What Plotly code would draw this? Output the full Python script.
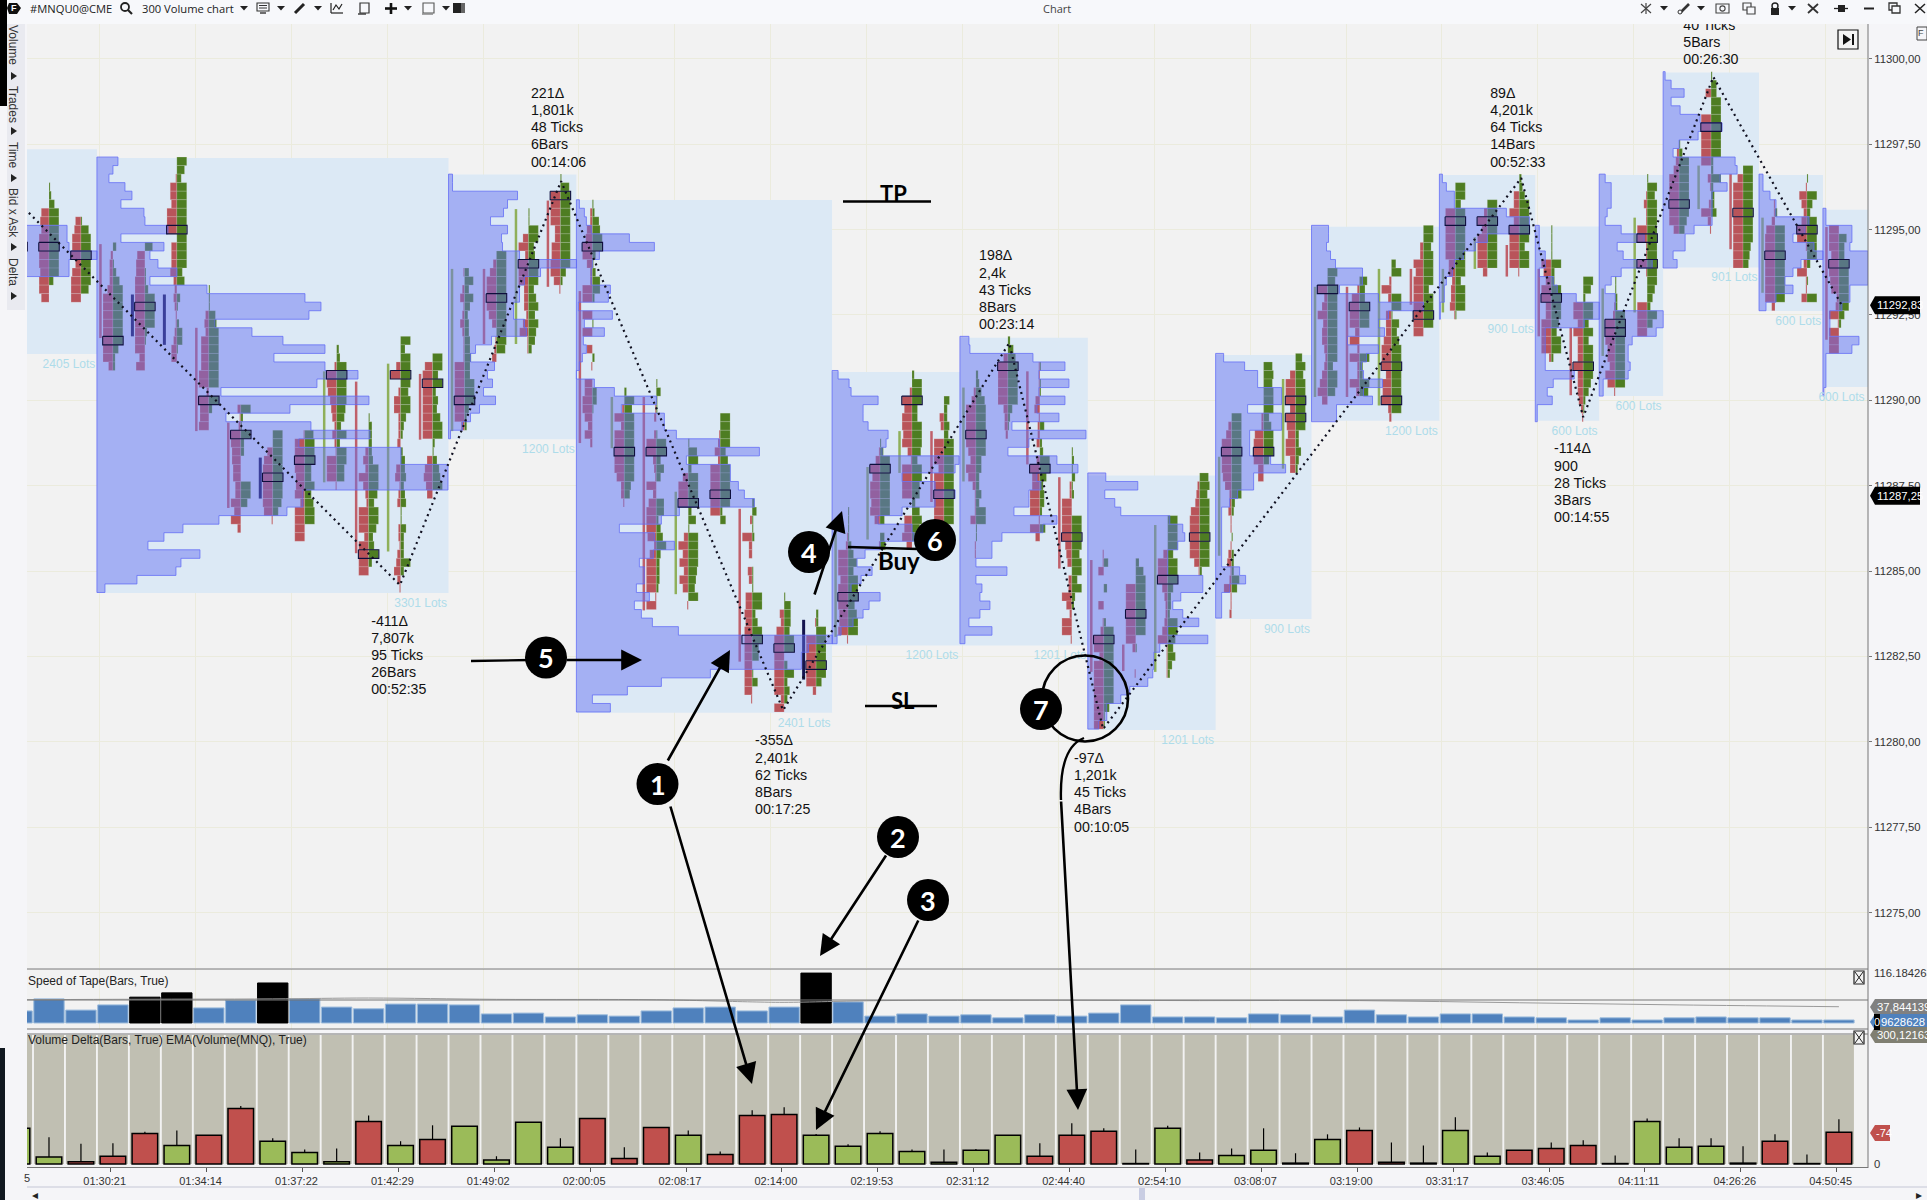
import plotly.graph_objects as go

W, H = 1927, 1200
BASE_PRICE = 11300.0
TICK = 0.25
LOT_PX = 1 / 31.96      # one profile lot / one volume unit, in bar widths
CELL = 1.1 / 31.96      # one footprint digit, in bar widths
CAPTION_STEP = 0.5      # line step of the captions, in price points

# ---------- footprint clusters, bar -1 .. 56 ----------
CLUSTER_TOP = [14, 15, 19, 22, 22, 12, 27, 41, 44, 44, 34, 42, 33, 35, 25, 23, 18, 14, 17, 39,
               38, 45, 42, 52, 63, 65, 53, 45, 37, 40, 37, 33, 36, 46, 58, 59, 54, 49, 42, 36,
               35, 25, 26, 24, 20, 15, 17, 14, 20, 26, 26, 14, 10, 2, 13, 17, 14, 20]
SELL = ["00000000000", "00078799998997", "5688958999", "023335999999994", "078899999999958",
        "001665999055563232112355", "00034377779929889", "312998877559693", "00589999981",
        "1999988949999", "00299865424219991", "0000353953299949999",
        "000490266222300451230022134631", "07999999990057865", "1024124211199999993",
        "0369999740124", "00059399944425811", "00999955889961",
        "02256995229909090501077997472", "00293999997331", "000120299321937999826999919",
        "00005999000495848501", "0012529999990", "002093304306676777777771", "00437999999939",
        "0109999993", "0001299979998891", "0149799895001", "002979989419999007795",
        "004309995999999", "0024999997597311150011", "004999994332", "111145122303977999194",
        "00002299999654033952991", "115000501399499999999", "00099999993001",
        "0000499953223591111", "023489999951", "035999986223110134127112", "00000022899955",
        "00599959879955", "0093594553235795", "02799949292293", "0029305557999588932",
        "0033979999999", "0009999996634451", "039599994", "005595999991", "0000975995599992",
        "00099595559555421", "00012999775971", "0013119911910009999", "02359999995",
        "0050099999903102931", "059999999999", "1138999999993", "017535991039115",
        "999799872391999"]
BUY = ["99099999999", "12599999999400", "1799999970", "301369999999522", "700113999921000",
       "974999999999957031025510", "11167999999909300", "921933000996000", "99999999850",
       "8999669689900", "23999998749399770", "1333349998599745930",
       "949999799532024453451153339300", "99593547992146790", "4848534455655999422",
       "9999999999980", "11995699957969763", "18999999999520",
       "12679931377200100020004410000", "29799999999650", "141100199474007724694333200",
       "18939999371999987690", "9999579999925", "241120001119935996601500", "16665990393530",
       "2299999950", "1111358599968990", "1399999994045", "299955999859977379790",
       "533549999999999", "2358999999553353991100", "257999994210", "101100040239963442050",
       "12131200999979959320000", "040030002999999999511", "37999999901000",
       "9999599953329975742", "897999999992", "999999999932001022275000", "89899957999500",
       "69799999933532", "9799999999959970", "75599900093398", "4900991757999999990",
       "9979999599990", "9959999999959991", "999999990", "235999995990", "1111933999975992",
       "97299595999975210", "11229999999990", "1979999999999753950", "13999999975",
       "1559999999229233500", "999999999765", "0209999999990", "109539999930109",
       "075599999952000"]

POC_BAR = [-1, 0, 1, 2, 3, 4, 5, 6, 7, 8, 9, 10, 11, 12, 13, 14, 15, 16, 17, 18, 19, 20, 21, 22, 23,
           24, 25, 26, 27, 28, 29, 30, 31, 32, 33, 34, 35, 36, 37, 38, 39, 39, 40, 41, 42, 42, 43,
           44, 45, 46, 47, 48, 49, 49, 50, 50, 51, 52, 53, 54, 55, 56]
POC_TICK = [22, 22, 23, 33, 29, 20, 40, 44, 49, 47, 37, 58, 37, 38, 40, 28, 24, 16, 22, 46, 46, 52,
            51, 68, 69, 71, 63, 48, 40, 51, 44, 36, 48, 56, 68, 65, 61, 56, 46, 46, 40, 42, 27, 29,
            36, 40, 30, 19, 19, 20, 28, 36, 31, 32, 21, 24, 17, 8, 18, 23, 20, 24]

CANDLE_BAR = [2, 3, 4, 5, 6, 7, 9, 10, 11, 12, 13, 14, 15, 16, 17, 18, 19, 20, 22, 24, 25, 26, 27,
              28, 29, 31, 32, 33, 34, 35, 37, 39, 40, 41, 42, 43, 44, 45, 46, 47, 48, 49, 50, 52,
              53, 54, 56]
CANDLE_TOP = [21.7, 27.6, 27.6, 31.5, 42.6, 46.7, 36.6, 37.8, 35.7, 36.9, 24.6, 24.6, 17.6, 16.6,
              27.2, 39.6, 39.6, 50.7, 52.7, 65.7, 55.0, 47.8, 43.6, 43.6, 38.5, 36.6, 49.0, 58.7,
              68.6, 54.6, 46.6, 37.5, 26.7, 26.7, 24.6, 24.6, 24.6, 20.9, 21.8, 24.6, 31.5, 26.9,
              18.6, 12.5, 13.5, 18.6, 19.7]
CANDLE_BOT = [32.7, 32.5, 33.5, 43.6, 52.6, 51.5, 49.6, 57.9, 57.7, 44.6, 43.6, 33.4, 33.4, 26.7,
              45.0, 45.6, 64.6, 62.7, 70.6, 72.7, 67.7, 56.3, 48.5, 51.9, 49.5, 47.5, 59.7, 71.8,
              71.7, 71.8, 58.2, 48.0, 39.6, 39.6, 40.6, 28.8, 29.7, 24.6, 25.5, 32.5, 39.4, 34.8,
              29.7, 17.6, 22.3, 27.4, 32.9]
CANDLE_KIND = list("snnssnbsbsbsbssbsbsnbbbsbssssbbbbsbsbbsssbbbsbs")

# ---------- volume profile zones ----------
ZONE_LEFT = [-1.5, 1.5, 12.5, 16.5, 24.5, 28.5, 32.5, 36.5, 39.5, 43.5, 46.5, 48.5, 50.5, 53.5, 55.5]
ZONE_RIGHT = [1.5, 12.5, 16.5, 24.5, 28.5, 32.5, 36.5, 39.5, 43.5, 46.5, 48.5, 50.5, 53.5, 55.5, 56.91]
ZONE_HIGH = [11297.35, 11297.10, 11296.61, 11295.87, 11290.83, 11291.83, 11287.80, 11291.33,
             11295.08, 11296.60, 11295.09, 11296.60, 11299.60, 11296.60, 11295.58]
ZONE_LOW = [11291.36, 11284.36, 11288.86, 11280.85, 11282.82, 11282.82, 11280.35, 11283.60,
            11289.40, 11292.38, 11289.40, 11290.13, 11293.89, 11292.62, 11290.39]
ZONE_LOTS = ["2405 Lots", "3301 Lots", "1200 Lots", "2401 Lots", "1200 Lots", "1201 Lots", "1201 Lots",
             "900 Lots", "1200 Lots", "900 Lots", "600 Lots", "600 Lots", "901 Lots", "600 Lots", "600 Lots"]
PROFILE_TOP = [18, 12, 14, 17, 37, 33, 49, 35, 20, 14, 20, 14, 2, 14, 18]
PROFILE_VOL = [
    [18, 18, 66, 66, 68, 96, 68, 68],
    [21, 16, 12, 28, 35, 24, 47, 48, 71, 24, 67, 53, 61, 80, 53, 110, 208, 224, 212, 118, 155, 186, 228, 177,
     228, 261, 220, 124, 272, 193, 129, 214, 273, 202, 304, 304, 351, 351, 351, 206, 206, 190, 122, 86, 67,
     51, 103, 84, 79, 40, 8],
    [4, 4, 69, 59, 55, 42, 59, 53, 54, 71, 128, 92, 76, 71, 71, 65, 65, 76, 78, 43, 27, 22, 46, 39, 44, 35,
     47, 31, 22, 14, 2],
    [3, 8, 10, 15, 53, 78, 23, 16, 15, 15, 34, 32, 2, 36, 8, 28, 7, 10, 6, 3, 0, 18, 38, 80, 45, 88, 88, 100,
     143, 183, 110, 154, 154, 162, 168, 178, 103, 85, 43, 78, 98, 77, 63, 68, 68, 60, 73, 58, 65, 76, 102,
     256, 232, 225, 225, 134, 85, 51, 16, 34],
    [6, 17, 19, 46, 31, 31, 36, 56, 54, 50, 127, 123, 70, 103, 123, 103, 70, 46, 80, 82, 48, 33, 25, 40, 29,
     19, 48, 37, 31, 21, 9, 5],
    [9, 10, 73, 105, 79, 109, 79, 105, 77, 99, 52, 126, 69, 48, 97, 118, 77, 81, 69, 69, 54, 97, 83, 42, 32,
     32, 16, 47, 16, 22, 20, 30, 20, 9, 32, 5],
    [18, 50, 17, 27, 33, 82, 95, 97, 90, 80, 80, 80, 115, 115, 93, 85, 95, 111, 80, 120, 72, 66, 66, 65, 60,
     42, 33, 19, 19, 11],
    [8, 29, 42, 42, 66, 66, 32, 66, 66, 34, 34, 34, 55, 70, 38, 38, 22, 14, 6, 6, 6, 6, 6, 6, 6, 24, 30, 14,
     6, 6, 6],
    [17, 17, 15, 19, 24, 51, 51, 28, 67, 112, 77, 67, 73, 36, 67, 55, 50, 52, 71, 52, 61, 25, 25],
    [3, 7, 15, 15, 67, 90, 90, 48, 36, 24, 15, 13, 7, 5, 5, 1, 1],
    [4, 4, 4, 10, 10, 4, 18, 22, 41, 64, 64, 49, 10, 10, 10, 10, 10, 39, 18, 12, 17, 2, 2],
    [6, 12, 12, 12, 8, 6, 22, 45, 18, 24, 53, 22, 12, 6, 16, 16, 64, 64, 57, 33, 29, 29, 31, 29, 4, 4],
    [2, 8, 21, 8, 17, 37, 59, 35, 16, 10, 72, 74, 57, 64, 49, 49, 49, 49, 31, 22, 22, 10, 14],
    [4, 4, 11, 17, 17, 50, 46, 34, 55, 64, 42, 34, 26, 34, 17, 7],
    [3, 3, 29, 29, 27, 45, 45, 45, 45, 27, 27, 19, 7, 7, 7, 36, 29, 3, 3, 3, 3, 1],
]

# ---------- swing line and its captions ----------
SWING_BAR = [-0.63, 10.98, 16.02, 22.97, 30.04, 32.98, 46.06, 48.0, 52.07, 56.07]
SWING_PRICE = [11295.49, 11284.59, 11296.42, 11280.93, 11291.68, 11280.38, 11296.51, 11289.51, 11299.47, 11292.82]
CAPTION_BAR = [15.08, 10.08, 22.09, 29.10, 32.07, 45.09, 47.09, 51.13]
CAPTION_PRICE = [11298.95, 11283.51, 11280.00, 11294.20, 11279.48, 11298.95, 11288.55, 11300.96]
CAPTION_TEXT = [["221Δ", "1,801k", "48 Ticks", "6Bars", "00:14:06"],
                ["-411Δ", "7,807k", "95 Ticks", "26Bars", "00:52:35"],
                ["-355Δ", "2,401k", "62 Ticks", "8Bars", "00:17:25"],
                ["198Δ", "2,4k", "43 Ticks", "8Bars", "00:23:14"],
                ["-97Δ", "1,201k", "45 Ticks", "4Bars", "00:10:05"],
                ["89Δ", "4,201k", "64 Ticks", "14Bars", "00:52:33"],
                ["-114Δ", "900", "28 Ticks", "3Bars", "00:14:55"],
                ["40 Ticks", "5Bars", "00:26:30"]]

# ---------- lower panels, bar -1 .. 56 ----------
BARS = list(range(-1, 57))
SPEED = [28, 56, 30, 42, 60, 70, 35, 53, 93, 56, 37, 33, 44, 44, 42, 21, 23, 14, 19, 16, 28, 35, 37, 28, 37,
         116, 49, 16, 21, 16, 19, 12, 19, 16, 23, 42, 14, 14, 12, 21, 19, 14, 30, 19, 14, 21, 21, 14, 12, 7,
         12, 7, 12, 14, 12, 12, 7, 7]
BLACK_SPEED_BARS = [3, 4, 7, 24]
EMA_BAR = [-1, 2, 7, 10, 14, 19, 22, 23, 26, 31, 36, 41, 46, 51, 56]
EMA_VAL = [54, 55, 56, 58, 55, 54, 49, 48, 52, 53, 52, 52, 47, 42, 37.8]
DELTA = [83, 16, 5, 18, 71, 43, 67, 129, 53, 27, 5, 99, 43, 57, 88, 9, 97, 39, 106, 13, 85, 67, 22, 113, 115,
         67, 41, 71, 29, 4, 32, 67, 18, 67, 76, 1, 83, 9, 20, 32, 2, 57, 78, 4, 2, 78, 18, 32, 36, 43, 1, 99,
         39, 41, 2, 53, 1, 74]
DELTA_HIGH = [83, 62, 47, 48, 75, 78, 67, 135, 60, 34, 36, 113, 53, 90, 88, 18, 97, 60, 106, 39, 85, 78, 29,
              125, 132, 70, 46, 76, 34, 34, 35, 67, 48, 95, 83, 34, 89, 27, 36, 83, 25, 69, 85, 50, 43, 109,
              27, 32, 50, 55, 20, 106, 60, 60, 41, 69, 22, 104]
DELTA_SIDE = list("bbsssbssbbbsbsbbbbsssbs" "ssbbbbbbbssssbsbbsbsss" "bbssssbbbssss")

TIME_BAR = [1.93 + 3 * k for k in range(19)]
TIME_TEXT = ["01:30:21", "01:34:14", "01:37:22", "01:42:29", "01:49:02", "02:00:05", "02:08:17", "02:14:00",
             "02:19:53", "02:31:12", "02:44:40", "02:54:10", "03:08:07", "03:19:00", "03:31:17", "03:46:05",
             "04:11:11", "04:26:26", "04:50:45"]
GRID_BAR = [1.58 + 3 * k for k in range(19)]
PRICE_TICKS = [11275, 11277.5, 11280, 11282.5, 11285, 11287.5, 11290, 11292.5, 11295, 11297.5, 11300]
LAST_PRICE = 11292.83
MARK_PRICE = 11287.25

RED, GREEN = "#c0504d", "#9bbb59"
SELL_CLR, BUY_CLR = "#b9545a", "#4e7d22"


def price(t):
    return BASE_PRICE - TICK * t


fx = lambda x: x / W
fy = lambda y: 1 - y / H

fig = go.Figure()

# zone backgrounds
fig.add_trace(go.Bar(orientation="h", y=[(a + b) / 2 for a, b in zip(ZONE_HIGH, ZONE_LOW)],
                     x=[r - l for l, r in zip(ZONE_LEFT, ZONE_RIGHT)], base=ZONE_LEFT,
                     width=[a - b for a, b in zip(ZONE_HIGH, ZONE_LOW)],
                     marker=dict(color="#dce9f5", line=dict(width=0)), hoverinfo="skip", showlegend=False))

# footprint cells
sy, sx, sb, by, bx, bb = [], [], [], [], [], []
for bar, top, sell, buy in zip(BARS, CLUSTER_TOP, SELL, BUY):
    for k, d in enumerate(sell):
        if d != "0":
            sy.append(price(top + k)); sx.append(-int(d) * CELL); sb.append(bar)
    for k, d in enumerate(buy):
        if d != "0":
            by.append(price(top + k)); bx.append(int(d) * CELL); bb.append(bar)
for ys, xs, bs, clr in ((sy, sx, sb, SELL_CLR), (by, bx, bb, BUY_CLR)):
    fig.add_trace(go.Bar(orientation="h", y=ys, x=xs, base=bs, width=TICK,
                         marker=dict(color=clr, line=dict(color="rgba(240,240,240,0.35)", width=0.5)),
                         hoverinfo="skip", showlegend=False))

# thin candles to the left of each cluster
for kind, clr, wd in (("s", "#c0606a", 2.5), ("b", "#8fb05a", 2.5), ("n", "#14144e", 3)):
    xs, ys = [], []
    for b, t0, t1, k in zip(CANDLE_BAR, CANDLE_TOP, CANDLE_BOT, CANDLE_KIND):
        if k == kind:
            xs += [b - 0.39, b - 0.39, None]
            ys += [price(t0), price(t1), None]
    fig.add_trace(go.Scatter(x=xs, y=ys, mode="lines", line=dict(color=clr, width=wd),
                             hoverinfo="skip", showlegend=False))

# volume profiles
for left, top, vols in zip(ZONE_LEFT, PROFILE_TOP, PROFILE_VOL):
    xs, ys = [left], [price(top) + TICK / 2]
    for k, v in enumerate(vols):
        xs += [left + v * LOT_PX] * 2
        ys += [price(top + k) + TICK / 2, price(top + k) - TICK / 2]
    xs.append(left); ys.append(ys[-1]); xs.append(left); ys.append(price(top) + TICK / 2)
    fig.add_trace(go.Scatter(x=xs, y=ys, mode="lines", fill="toself", fillcolor="rgba(102,112,240,0.47)",
                             line=dict(color="rgba(95,105,245,0.75)", width=1), hoverinfo="skip", showlegend=False))

# POC boxes
xs, ys = [], []
for b, t in zip(POC_BAR, POC_TICK):
    l, r, hi, lo = b - 0.32, b + 0.32, price(t) + TICK / 2, price(t) - TICK / 2
    xs += [l, r, r, l, l, None]
    ys += [hi, hi, lo, lo, hi, None]
fig.add_trace(go.Scatter(x=xs, y=ys, mode="lines", line=dict(color="#0e0e3c", width=1.1),
                         hoverinfo="skip", showlegend=False))

# swing line
fig.add_trace(go.Scatter(x=SWING_BAR, y=SWING_PRICE, mode="lines",
                         line=dict(color="#101020", width=2.2, dash="2px,4px"), hoverinfo="skip", showlegend=False))

# captions and lot labels
cap_x, cap_y, cap_t = [], [], []
for bx0, p0, lines in zip(CAPTION_BAR, CAPTION_PRICE, CAPTION_TEXT):
    for k, s in enumerate(lines):
        cap_x.append(bx0); cap_y.append(p0 - k * CAPTION_STEP); cap_t.append(s)
fig.add_trace(go.Scatter(x=cap_x, y=cap_y, mode="text", text=cap_t, textposition="middle right",
                         textfont=dict(family="Liberation Sans", size=14.2, color="#111"),
                         hoverinfo="skip", showlegend=False))
fig.add_trace(go.Scatter(x=[min(r, 56.85) - 0.05 for r in ZONE_RIGHT], y=[p - 0.14 for p in ZONE_LOW], mode="text",
                         text=ZONE_LOTS, textposition="bottom left",
                         textfont=dict(family="Liberation Sans", size=12, color="#aedcea"),
                         hoverinfo="skip", showlegend=False))

# speed of tape
speed_clr = ["#000000" if b in BLACK_SPEED_BARS else "#4f81bd" for b in BARS]
speed_line = ["#000000" if b in BLACK_SPEED_BARS else "#9bbbdc" for b in BARS]
fig.add_trace(go.Bar(x=BARS, y=SPEED, width=0.95, marker=dict(color=speed_clr, line=dict(color=speed_line, width=1)),
                     xaxis="x2", yaxis="y2", hoverinfo="skip", showlegend=False))
fig.add_trace(go.Scatter(x=EMA_BAR, y=EMA_VAL, mode="lines", line=dict(color="#9a9a9a", width=1, shape="spline"),
                         xaxis="x2", yaxis="y2", hoverinfo="skip", showlegend=False))

# volume delta
fig.add_trace(go.Bar(x=BARS, y=[300] * len(BARS), width=0.94, marker=dict(color="#c0bfb2", line=dict(width=0)),
                     xaxis="x3", yaxis="y3", hoverinfo="skip", showlegend=False))
fig.add_trace(go.Bar(x=BARS, y=DELTA, width=0.8,
                     marker=dict(color=[RED if s == "s" else GREEN for s in DELTA_SIDE], line=dict(color="#000", width=1.5)),
                     xaxis="x3", yaxis="y3", hoverinfo="skip", showlegend=False))
wx, wy = [], []
for b, lo, hi in zip(BARS, DELTA, DELTA_HIGH):
    wx += [b, b, None]
    wy += [lo, hi, None]
fig.add_trace(go.Scatter(x=wx, y=wy, mode="lines", line=dict(color="#000", width=1.2),
                         xaxis="x3", yaxis="y3", hoverinfo="skip", showlegend=False))

# ---------- chrome helpers ----------
shapes, ann = [], []


def rect(x0, y0, x1, y1, fill=None, line=None, lw=1, layer="above"):
    shapes.append(dict(type="rect", xref="paper", yref="paper", x0=fx(x0), x1=fx(x1), y0=fy(y0), y1=fy(y1),
                       fillcolor=fill or "rgba(0,0,0,0)", line=dict(color=line or "rgba(0,0,0,0)", width=lw if line else 0),
                       layer=layer))


def seg(x0, y0, x1, y1, color="#000", lw=1):
    shapes.append(dict(type="line", xref="paper", yref="paper", x0=fx(x0), x1=fx(x1), y0=fy(y0), y1=fy(y1),
                       line=dict(color=color, width=lw), layer="above"))


def circ(cx, cy, r, fill=None, line=None, lw=1):
    shapes.append(dict(type="circle", xref="paper", yref="paper", x0=fx(cx - r), x1=fx(cx + r), y0=fy(cy - r), y1=fy(cy + r),
                       fillcolor=fill or "rgba(0,0,0,0)", line=dict(color=line or "rgba(0,0,0,0)", width=lw if line else 0),
                       layer="above"))


def path(points, fill=None, line=None, lw=1):
    d = "M " + " L ".join(f"{fx(x):.5f},{fy(y):.5f}" for x, y in points)
    if fill:
        d += " Z"
    shapes.append(dict(type="path", xref="paper", yref="paper", path=d, fillcolor=fill or "rgba(0,0,0,0)",
                       line=dict(color=line or "rgba(0,0,0,0)", width=lw if line else 0), layer="above"))


def txt(x, y, s, size=12, color="#222", anchor="left", family="Liberation Sans", angle=0, bg=None, bold=False):
    ann.append(dict(xref="paper", yref="paper", x=fx(x), y=fy(y), text=f"<b>{s}</b>" if bold else s, showarrow=False,
                    xanchor=anchor, yanchor="middle", textangle=angle, bgcolor=bg, borderpad=0,
                    font=dict(family=family, size=size, color=color)))


def arrow(x0, y0, x1, y1, lw=2.6):
    ann.append(dict(xref="paper", yref="paper", axref="pixel", ayref="pixel", x=fx(x1), y=fy(y1), ax=x0 - x1, ay=y0 - y1,
                    text="", showarrow=True, arrowhead=2, arrowsize=1.6, arrowwidth=lw, arrowcolor="#000", standoff=0))


def drop(x):
    path([(x - 4, 6), (x + 4, 6), (x, 10.5)], fill="#222")


# window chrome
rect(0, 0, W, 24, fill="#f7f8fb")
rect(0, 24, 27, H, fill="#f5f5f8")
rect(0, 0, 7, 106, fill="#000")
rect(0, 1048, 5, H, fill="#101820")
rect(7, 24, 25, 310, fill="#e9eaf0")
seg(27, 1187, W, 1187, "#d4d6e2", 1.5)
rect(1139, 1188, 1145, H, fill="#c9cde3")
txt(35, 1195, "◂", 12, "#222", "center", "DejaVu Sans")
txt(1919, 1195, "▸", 12, "#222", "center", "DejaVu Sans")

# toolbar, left part
path([(9, 3), (17, 3), (21, 8), (17, 14), (9, 14), (7, 8)], fill="#111")
txt(14, 8, "F", 9, "#fff", "center", "Liberation Sans", bold=True)
txt(29, 8, "#MNQU0@CME", 11.2, "#222", family="Open Sans")
circ(125, 7, 4, line="#222", lw=1.8)
seg(128, 10, 132, 14, "#222", 2.2)
txt(141, 8, "300 Volume chart", 11.2, "#222", family="Open Sans")
for x in (244, 281, 318, 408, 446, 1664, 1701, 1792):
    drop(x)
rect(257, 3, 269, 11, line="#333", lw=1.1)
seg(259, 5.5, 267, 5.5, "#333", 1); seg(259, 8, 267, 8, "#333", 1); seg(260, 13, 266, 13, "#333", 1.4)
seg(295, 13, 304, 4, "#222", 3)
seg(331, 13, 343, 13, "#222", 1.2); seg(331, 3, 331, 13, "#222", 1.2)
path([(333, 10), (336, 5), (339, 9), (342, 4)], line="#222", lw=1.2)
rect(360, 3, 369, 13, line="#333", lw=1.2)
seg(358, 14, 366, 14, "#333", 1.4)
seg(385, 8.5, 397, 8.5, "#111", 2.6); seg(391, 3, 391, 14, "#111", 2.6)
rect(423, 3, 434, 13, line="#555", lw=1.1); seg(422, 14, 433, 14, "#888", 1.5)
rect(453, 3, 461, 13, fill="#222"); rect(461, 3, 465, 13, fill="#666")
txt(1057, 8, "Chart", 11, "#444", "center", "Open Sans")

# toolbar, right part
seg(1641, 4, 1651, 13, "#444", 1.2); seg(1641, 13, 1651, 4, "#444", 1.2); seg(1646, 3, 1646, 14, "#444", 1.2)
seg(1680, 13, 1689, 4, "#333", 2.6); circ(1680, 12, 2, fill="#f7f8fb", line="#333", lw=1)
rect(1716, 4, 1729, 13, line="#444", lw=1.1); circ(1722.5, 8.5, 2.6, line="#444", lw=1.1)
rect(1743, 3, 1751, 10, line="#444", lw=1.2); rect(1747, 7, 1755, 14, fill="#f7f8fb", line="#444", lw=1.2)
rect(1771, 8, 1779, 15, fill="#222"); circ(1775, 6, 3, line="#222", lw=1.4)
seg(1808, 13, 1818, 4, "#333", 1.8); seg(1808, 4, 1818, 13, "#333", 1.8)
seg(1834, 8.5, 1848, 8.5, "#222", 1.3); rect(1838, 5, 1845, 12, fill="#222")
seg(1864, 8.5, 1874, 8.5, "#222", 2)
rect(1889, 3, 1897, 10, line="#333", lw=1.3); rect(1892, 6, 1900, 13, fill="#f7f8fb", line="#333", lw=1.3)
seg(1915, 4, 1925, 13, "#222", 1.5); seg(1915, 13, 1925, 4, "#222", 1.5)

# left rail
for y, s in ((45, "Volume"), (104, "Trades"), (155, "Time"), (213, "Bid x Ask"), (272, "Delta")):
    txt(13, y, s, 12, "#333", "center", "Liberation Sans", angle=90)
for y in (76, 131, 178, 247, 296):
    path([(11, y - 4), (17, y), (11, y + 4)], fill="#222")

# panel rules
for y in (969, 1000, 1029, 1034):
    seg(27, y, 1868, y, "#777777", 1)
seg(1868, 24, 1868, 1168, "#777777", 1)

# panel titles
txt(27, 981, "Speed of Tape(Bars, True)", 12, "#222")
txt(27, 1040, "Volume Delta(Bars, True) EMA(Volume(MNQ), True)", 12, "#222")
txt(27, 1178, "5", 11, "#333", "center")

# right-side values
txt(1873, 973, "116.1842633", 11.3, "#333")
txt(1873, 1164, "0", 11.3, "#333")
for y in (977, 1037):
    rect(1854, y - 6, 1864, y + 7, line="#222", lw=1.2, fill="#f2f2f2")
    seg(1855, y - 5, 1863, y + 6, "#222", 1)
    seg(1863, y - 5, 1855, y + 6, "#222", 1)
for y, s, bg, x1 in ((1007, "37,8441393", "#808080", W + 30), (1022, "9628628", "#4f81bd", W + 30),
                     (1035, "300,12163", "#807f72", W + 30)):
    path([(1870, y), (1875, y - 8), (x1, y - 8), (x1, y + 8), (1875, y + 8)], fill=bg)
    txt(1876 if s != "9628628" else 1880, y, s, 11.3, "#fff")
path([(1870, 1133), (1875, 1125), (1890, 1125), (1890, 1141), (1875, 1141)], fill="#c0504d")
txt(1875, 1133, "-74", 11, "#fff")
rect(1874, 1014, 1880, 1030, fill="#000")
txt(1877, 1022, "0", 11, "#fff", "center")
for p in (LAST_PRICE, MARK_PRICE):
    y = 60.4 + (BASE_PRICE - p) * 34.15
    path([(1870, y), (1875, y - 9), (1920, y - 9), (1920, y + 9), (1875, y + 9)], fill="#000")
    txt(1875.5, y, f"{p:.2f}".replace(".", ","), 11.3, "#fff")

# jump-to-end and corner buttons
rect(1838, 30, 1858, 49, line="#111", lw=1.2)
path([(1843, 34), (1851, 39.5), (1843, 45)], fill="#111")
rect(1852, 34, 1854, 45, fill="#111")
rect(1917, 27, 1927, 40, line="#444", lw=1)
txt(1921, 33, "F", 9, "#444", "center")

# drawn annotations
arrow(667, 762, 730, 650)
arrow(670, 805, 752, 1084)
arrow(887, 854, 820, 956)
arrow(919, 919, 816, 1130)
arrow(814, 596, 842, 511)
seg(471, 661, 530, 660, "#000", 2.4)
arrow(565, 660, 642, 660)
seg(848, 547, 918, 549, "#000", 2.4)
seg(843, 201.5, 931, 201.5, "#000", 2.4)
seg(865, 706, 937, 706, "#000", 2.4)
txt(893, 193, "TP", 22, "#000", "center", "Lato", bold=True)
txt(903, 700, "SL", 22, "#000", "center", "Lato", bold=True)
txt(899, 560, "Buy", 24, "#000", "center", "Lato", bold=True)
circ(1085, 698.5, 43, line="#000", lw=2.6)
shapes.append(dict(type="path", xref="paper", yref="paper", layer="above", line=dict(color="#000", width=2.4),
                   path=f"M {fx(1084)},{fy(738)} C {fx(1066)},{fy(745)} {fx(1060)},{fy(770)} {fx(1061)},{fy(800)}"))
arrow(1061, 800, 1078, 1110)
for n, cx, cy in ((1, 657.5, 784), (2, 898, 837), (3, 928, 900), (4, 809, 552), (5, 546, 657.5), (6, 935, 540), (7, 1041, 709)):
    circ(cx, cy, 21, fill="#000")
    txt(cx, cy, str(n), 27, "#fff", "center", "Lato", bold=True)

BAR_RANGE = [-0.688, 56.91]
fig.update_layout(
    width=W, height=H, margin=dict(l=0, r=0, t=0, b=0), barmode="overlay", showlegend=False,
    paper_bgcolor="#f5f5f8", plot_bgcolor="#f2f2f2", shapes=shapes, annotations=ann,
    xaxis=dict(domain=[fx(27), fx(1868)], range=BAR_RANGE, tickvals=GRID_BAR, ticks="", showticklabels=False,
               showgrid=True, gridcolor="#ebebdd", gridwidth=1, zeroline=False, anchor="y"),
    yaxis=dict(domain=[fy(968), fy(24)], range=[11273.38, 11301.02], side="right", anchor="x", tickvals=PRICE_TICKS,
               ticktext=[f"{p:.2f}".replace(".", ",") for p in PRICE_TICKS], ticks="outside", ticklen=3,
               tickcolor="#777", showgrid=True, gridcolor="#ebebdd", gridwidth=1, zeroline=False,
               tickfont=dict(family="Liberation Sans", size=11.3, color="#333")),
    xaxis2=dict(domain=[fx(27), fx(1868)], range=BAR_RANGE, tickvals=GRID_BAR, showticklabels=False, ticks="",
                showgrid=True, gridcolor="#ebebdd", zeroline=False, anchor="y2"),
    yaxis2=dict(domain=[fy(1029), fy(969)], range=[-14, 125.5], side="right", anchor="x2", showticklabels=False,
                showgrid=False, zeroline=False),
    xaxis3=dict(domain=[fx(27), fx(1868)], range=BAR_RANGE, tickvals=TIME_BAR, ticktext=TIME_TEXT, ticks="outside",
                ticklen=4, tickcolor="#555", ticklabelshift=-6, showgrid=False, zeroline=False, anchor="y3",
                showline=True, linecolor="#777", tickfont=dict(family="Liberation Sans", size=11, color="#333")),
    yaxis3=dict(domain=[fy(1167), fy(1034)], range=[-7, 302.4], side="right", anchor="x3", showticklabels=False,
                showgrid=False, zeroline=False),
)

fig.write_html("out.html", config={"displayModeBar": False},
               post_script="document.body.style.margin='0';document.body.style.overflow='hidden';")
